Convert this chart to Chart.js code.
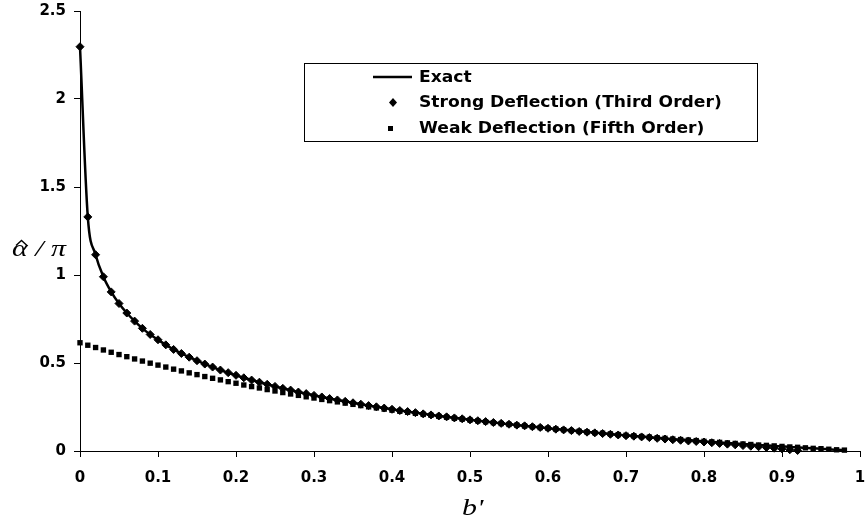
<!DOCTYPE html>
<html>
<head>
<meta charset="utf-8">
<script src="https://cdn.jsdelivr.net/npm/chart.js@4.4.1/dist/chart.umd.min.js"></script>
<style>
  html, body { margin: 0; padding: 0; background: #fff; }
  #wrap { width: 865px; height: 525px; }
</style>
</head>
<body>
<div id="wrap"><canvas id="deflectionChart" width="865" height="525"></canvas></div>
<script>
var bPrime = [
  0, 0.01, 0.02, 0.03, 0.04, 0.05, 0.06, 0.07, 0.08, 0.09,
  0.1, 0.11, 0.12, 0.13, 0.14, 0.15, 0.16, 0.17, 0.18, 0.19,
  0.2, 0.21, 0.22, 0.23, 0.24, 0.25, 0.26, 0.27, 0.28, 0.29,
  0.3, 0.31, 0.32, 0.33, 0.34, 0.35, 0.36, 0.37, 0.38, 0.39,
  0.4, 0.41, 0.42, 0.43, 0.44, 0.45, 0.46, 0.47, 0.48, 0.49,
  0.5, 0.51, 0.52, 0.53, 0.54, 0.55, 0.56, 0.57, 0.58, 0.59,
  0.6, 0.61, 0.62, 0.63, 0.64, 0.65, 0.66, 0.67, 0.68, 0.69,
  0.7, 0.71, 0.72, 0.73, 0.74, 0.75, 0.76, 0.77, 0.78, 0.79,
  0.8, 0.81, 0.82, 0.83, 0.84, 0.85, 0.86, 0.87, 0.88, 0.89,
  0.9, 0.91, 0.92, 0.93, 0.94, 0.95, 0.96, 0.97, 0.98,
];

var exact = [
  2.297, 1.330, 1.115, 0.990, 0.904, 0.838, 0.784, 0.738, 0.697, 0.662,
  0.632, 0.603, 0.577, 0.554, 0.533, 0.513, 0.494, 0.477, 0.460, 0.445,
  0.430, 0.416, 0.403, 0.391, 0.379, 0.367, 0.356, 0.346, 0.335, 0.326,
  0.316, 0.307, 0.298, 0.290, 0.282, 0.274, 0.266, 0.258, 0.251, 0.244,
  0.237, 0.230, 0.224, 0.218, 0.211, 0.205, 0.199, 0.194, 0.188, 0.183,
  0.177, 0.172, 0.167, 0.162, 0.157, 0.152, 0.147, 0.143, 0.138, 0.134,
  0.129, 0.125, 0.121, 0.117, 0.113, 0.109, 0.105, 0.101, 0.097, 0.093,
  0.089, 0.086, 0.082, 0.079, 0.075, 0.072, 0.068, 0.065, 0.062, 0.059,
  0.055, 0.052, 0.049, 0.046, 0.043, 0.040, 0.037, 0.034, 0.032, 0.029,
  0.026, 0.023, 0.021, 0.018, 0.015, 0.013, 0.010, 0.007, 0.005,
];

// strong deflection series stops at b' = 0.92
var strong = [
  2.297, 1.330, 1.115, 0.990, 0.904, 0.838, 0.784, 0.738, 0.697, 0.662,
  0.632, 0.603, 0.577, 0.554, 0.533, 0.513, 0.494, 0.477, 0.460, 0.445,
  0.430, 0.416, 0.403, 0.391, 0.379, 0.367, 0.356, 0.346, 0.335, 0.326,
  0.316, 0.307, 0.298, 0.290, 0.282, 0.274, 0.266, 0.258, 0.251, 0.244,
  0.237, 0.230, 0.224, 0.218, 0.211, 0.205, 0.199, 0.194, 0.188, 0.183,
  0.177, 0.172, 0.167, 0.162, 0.157, 0.152, 0.147, 0.143, 0.138, 0.134,
  0.129, 0.124, 0.120, 0.116, 0.111, 0.107, 0.103, 0.099, 0.095, 0.091,
  0.087, 0.084, 0.080, 0.076, 0.072, 0.068, 0.064, 0.061, 0.057, 0.054,
  0.051, 0.047, 0.043, 0.039, 0.035, 0.031, 0.027, 0.024, 0.020, 0.016,
  0.012, 0.007, 0.003,
];

var weak = [
  0.615, 0.601, 0.588, 0.574, 0.561, 0.548, 0.536, 0.523, 0.511, 0.499,
  0.488, 0.477, 0.465, 0.455, 0.444, 0.434, 0.423, 0.413, 0.404, 0.394,
  0.385, 0.375, 0.366, 0.358, 0.349, 0.341, 0.332, 0.324, 0.316, 0.308,
  0.301, 0.293, 0.286, 0.279, 0.272, 0.265, 0.258, 0.251, 0.245, 0.238,
  0.232, 0.226, 0.220, 0.214, 0.208, 0.203, 0.197, 0.192, 0.186, 0.181,
  0.176, 0.171, 0.166, 0.161, 0.156, 0.151, 0.147, 0.142, 0.138, 0.133,
  0.129, 0.125, 0.121, 0.116, 0.112, 0.108, 0.104, 0.101, 0.097, 0.093,
  0.089, 0.086, 0.082, 0.079, 0.075, 0.072, 0.068, 0.065, 0.062, 0.059,
  0.055, 0.052, 0.049, 0.046, 0.043, 0.040, 0.037, 0.034, 0.032, 0.029,
  0.026, 0.023, 0.021, 0.018, 0.015, 0.013, 0.010, 0.007, 0.005,
];

var seriesNames = ["Exact", "Strong Deflection (Third Order)", "Weak Deflection (Fifth Order)"];
var xTicks = [0, 0.1, 0.2, 0.3, 0.4, 0.5, 0.6, 0.7, 0.8, 0.9, 1];
var yTicks = [0, 0.5, 1, 1.5, 2, 2.5];
var xTitle = "b'";
var yTitleParts = ["\u03B1", " / \u03C0"];

function toPoints(ys) {
  var pts = [];
  for (var i = 0; i < ys.length; i++) {
    pts.push({ x: bPrime[i], y: ys[i] });
  }
  return pts;
}

var tickFont = { family: "'DejaVu Sans', sans-serif", size: 15, weight: "bold" };

// text stretched sideways a little, like the original figure
function wideText(ctx, text, x, y, sx) {
  ctx.save();
  ctx.translate(x, y);
  ctx.scale(sx, 1);
  ctx.fillText(text, 0, 0);
  ctx.restore();
}

// legend box and the two axis titles
var overlay = {
  id: "overlay",
  afterDraw: function (chart) {
    var ctx = chart.ctx;
    ctx.save();

    ctx.fillStyle = "#fff";
    ctx.fillRect(304, 63, 454, 78);
    ctx.strokeStyle = "#000";
    ctx.lineWidth = 1;
    ctx.strokeRect(304.5, 63.5, 453, 78);

    ctx.fillStyle = "#000";
    ctx.font = "bold 16px 'DejaVu Sans', sans-serif";
    ctx.textAlign = "left";
    ctx.textBaseline = "middle";

    // Exact
    ctx.lineWidth = 2.5;
    ctx.beginPath();
    ctx.moveTo(373, 77);
    ctx.lineTo(412, 77);
    ctx.stroke();
    wideText(ctx, seriesNames[0], 419, 78, 1.07);

    // Strong
    ctx.beginPath();
    ctx.moveTo(393, 98);
    ctx.lineTo(397, 102.5);
    ctx.lineTo(393, 107);
    ctx.lineTo(389, 102.5);
    ctx.closePath();
    ctx.fill();
    wideText(ctx, seriesNames[1], 419, 103, 1.07);

    // Weak
    ctx.fillRect(388, 126, 5, 5);
    wideText(ctx, seriesNames[2], 419, 129, 1.07);

    // axis titles
    ctx.font = "italic 23px 'Liberation Serif', 'DejaVu Serif', serif";
    ctx.textBaseline = "alphabetic";
    var aw = ctx.measureText(yTitleParts[0]).width;
    wideText(ctx, yTitleParts[0], 12, 256, 1.3);
    wideText(ctx, yTitleParts[1], 12 + aw * 1.3, 256, 1.3);
    // hat over the alpha
    ctx.lineWidth = 1.4;
    ctx.beginPath();
    ctx.moveTo(16, 245.5);
    ctx.lineTo(21.5, 240.5);
    ctx.lineTo(27, 245.5);
    ctx.stroke();
    wideText(ctx, xTitle, 462, 515, 1.3);

    ctx.restore();
  },
};

var ctx = document.getElementById("deflectionChart");

var myChart = new Chart(ctx, {
  type: "scatter",
  data: {
    datasets: [
      {
        label: seriesNames[2],
        data: toPoints(weak),
        showLine: false,
        pointStyle: "rect",
        pointRadius: 3.8,
        pointBorderWidth: 0,
        backgroundColor: "#000",
        borderColor: "#000",
        clip: false,
        order: 0,
      },
      {
        label: seriesNames[1],
        data: toPoints(strong),
        showLine: false,
        pointStyle: "rectRot",
        pointRadius: 4,
        pointBorderWidth: 1,
        backgroundColor: "#000",
        borderColor: "#000",
        clip: false,
        order: 1,
      },
      {
        label: seriesNames[0],
        data: toPoints(exact),
        showLine: true,
        pointRadius: 0,
        borderColor: "#000",
        borderWidth: 2.5,
        cubicInterpolationMode: "monotone",
        clip: false,
        order: 2,
      },
    ],
  },
  options: {
    responsive: false,
    animation: false,
    devicePixelRatio: 1,
    layout: { padding: { top: 11, right: 5, left: 0, bottom: 0 } },
    plugins: {
      legend: { display: false },
      tooltip: { enabled: false },
    },
    scales: {
      x: {
        type: "linear",
        min: 0,
        max: 1,
        afterBuildTicks: function (scale) {
          scale.ticks = xTicks.map(function (v) { return { value: v }; });
        },
        afterFit: function (scale) {
          scale.height = 74;
          scale.paddingLeft = 0;
          scale.paddingRight = 0;
        },
        ticks: {
          font: tickFont,
          color: "#000",
          padding: 12,
          maxRotation: 0,
          autoSkip: false,
          callback: function (v) { return String(v); },
        },
        grid: { display: true, drawOnChartArea: false, drawTicks: true, tickLength: 6, color: "#000" },
        border: { display: true, color: "#000", width: 1 },
      },
      y: {
        type: "linear",
        min: 0,
        max: 2.5,
        afterBuildTicks: function (scale) {
          scale.ticks = yTicks.map(function (v) { return { value: v }; });
        },
        afterFit: function (scale) {
          scale.width = 80;
          scale.paddingTop = 0;
          scale.paddingBottom = 0;
        },
        ticks: {
          font: tickFont,
          color: "#000",
          padding: 8,
          autoSkip: false,
          callback: function (v) { return String(v); },
        },
        grid: { display: true, drawOnChartArea: false, drawTicks: true, tickLength: 6, color: "#000" },
        border: { display: true, color: "#000", width: 1 },
      },
    },
  },
  plugins: [overlay],
});
</script>
</body>
</html>
